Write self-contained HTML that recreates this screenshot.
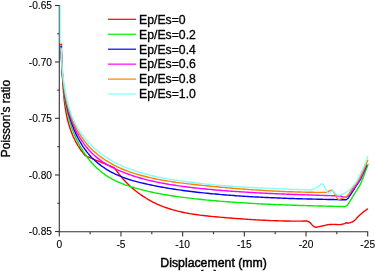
<!DOCTYPE html>
<html><head><meta charset="utf-8"><style>
html,body{margin:0;padding:0;background:#fff;width:375px;height:271px;overflow:hidden}
svg{display:block}
text{font-family:"Liberation Sans",Arial,sans-serif;fill:#000;stroke:#000;stroke-width:0.45px}
.tk text{stroke-width:0.12px}
.yt{stroke-width:0.35px}
.lg text{stroke-width:0.3px}
</style></head><body>
<svg width="375" height="271" viewBox="0 0 375 271">
<g fill="none" stroke-width="1.4" stroke-linejoin="round" stroke-linecap="round">
<path d="M61.20,44.30L61.30,46.29 61.40,48.28 61.49,50.29 61.58,52.30 61.67,54.32 61.75,56.35 61.84,58.38 61.92,60.42 62.00,62.46 62.08,64.51 62.16,66.57 62.24,68.63 62.32,70.69 62.41,72.75 62.50,74.82 62.60,76.89 62.69,78.95 62.80,81.02 62.91,83.09 63.03,85.16 63.15,87.22 63.29,89.29 63.44,91.35 63.60,93.40 63.78,95.46 63.97,97.51 64.18,99.55 64.41,101.59 64.66,103.62 64.93,105.65 65.23,107.67 65.54,109.68 65.89,111.68 66.26,113.67 66.66,115.66 67.09,117.63 67.55,119.59 68.04,121.55 68.56,123.49 69.12,125.41 69.72,127.33 70.36,129.23 71.03,131.11 71.75,132.99 72.50,134.84 73.30,136.68 74.15,138.50 75.04,140.31 75.97,142.10 76.96,143.87 77.99,145.62 79.08,147.35 80.21,149.07 81.40,150.76 82.65,152.43 83.94,154.08 85.30,155.70 87.34,156.59 89.39,157.47 91.45,158.33 93.51,159.19 95.57,160.03 97.64,160.87 99.71,161.71 101.77,162.54 103.84,163.38 105.90,164.22 107.96,165.07 110.01,165.94 112.06,166.81 114.10,167.70 115.35,169.31 116.59,170.92 117.83,172.52 119.08,174.09 120.33,175.65 121.61,177.18 122.91,178.70 124.23,180.19 125.59,181.66 126.98,183.11 128.42,184.53 129.89,185.92 131.39,187.29 132.93,188.64 134.50,189.95 136.10,191.23 137.73,192.49 139.38,193.71 141.06,194.90 142.76,196.06 144.49,197.18 146.24,198.27 148.00,199.33 149.78,200.34 151.58,201.32 153.39,202.26 155.21,203.16 157.04,204.02 158.88,204.84 160.74,205.63 162.60,206.37 164.47,207.08 166.35,207.76 168.24,208.40 170.14,209.01 172.05,209.59 173.97,210.14 175.89,210.66 177.82,211.15 179.76,211.61 181.71,212.05 183.66,212.47 185.62,212.86 187.59,213.24 189.57,213.59 191.55,213.92 193.53,214.23 195.53,214.52 197.52,214.80 199.53,215.07 201.54,215.32 203.55,215.56 205.57,215.78 207.59,216.00 209.62,216.21 211.65,216.41 213.68,216.60 215.72,216.79 217.76,216.97 219.81,217.15 221.85,217.33 223.90,217.50 225.96,217.68 228.01,217.85 230.07,218.01 232.12,218.18 234.18,218.34 236.24,218.50 238.30,218.65 240.37,218.81 242.43,218.96 244.49,219.10 246.55,219.24 248.62,219.38 250.68,219.51 252.74,219.64 254.80,219.76 256.86,219.88 258.92,220.00 260.97,220.11 263.03,220.21 265.08,220.31 267.13,220.41 269.18,220.50 271.22,220.58 273.26,220.66 275.30,220.73 277.34,220.80 279.37,220.86 281.40,220.92 283.42,220.96 285.44,221.01 287.45,221.04 289.46,221.07 291.47,221.09 293.47,221.11 295.46,221.11 297.45,221.11 299.43,221.11 301.41,221.09 303.38,221.07 305.34,221.04 307.30,221.00 307.51,221.12 307.79,221.26 308.12,221.43 308.49,221.62 308.88,221.84 309.27,222.08 309.65,222.33 310.00,222.60 310.33,222.90 310.66,223.24 310.99,223.61 311.32,224.00 311.64,224.39 311.97,224.76 312.29,225.10 312.60,225.40 312.91,225.67 313.22,225.92 313.53,226.15 313.84,226.37 314.14,226.56 314.43,226.73 314.72,226.88 315.00,227.00 315.26,227.09 315.48,227.15 315.69,227.19 315.90,227.21 316.12,227.20 316.37,227.18 316.66,227.15 317.00,227.10 317.40,227.03 317.86,226.94 318.35,226.83 318.88,226.71 319.41,226.57 319.95,226.44 320.49,226.31 321.00,226.20 321.50,226.10 322.01,225.99 322.52,225.89 323.03,225.79 323.54,225.70 324.04,225.60 324.52,225.50 325.00,225.40 325.45,225.30 325.86,225.19 326.26,225.07 326.66,224.96 327.06,224.86 327.50,224.76 327.97,224.67 328.50,224.60 329.09,224.54 329.72,224.50 330.39,224.46 331.09,224.44 331.81,224.42 332.54,224.41 333.27,224.40 334.00,224.40 334.74,224.41 335.51,224.45 336.30,224.49 337.09,224.54 337.87,224.58 338.63,224.61 339.34,224.62 340.00,224.60 340.61,224.55 341.18,224.48 341.71,224.39 342.22,224.28 342.70,224.17 343.15,224.04 343.59,223.92 344.00,223.80 344.39,223.67 344.75,223.51 345.09,223.34 345.41,223.17 345.70,223.01 345.98,222.87 346.25,222.76 346.50,222.70 346.72,222.70 346.89,222.75 347.03,222.85 347.16,222.96 347.30,223.07 347.47,223.16 347.70,223.21 348.00,223.20 348.39,223.14 348.85,223.04 349.36,222.91 349.91,222.76 350.46,222.58 351.01,222.40 351.53,222.20 352.00,222.00 352.42,221.80 352.82,221.58 353.20,221.36 353.56,221.12 353.92,220.87 354.27,220.60 354.63,220.31 355.00,220.00 355.38,219.65 355.75,219.27 356.12,218.87 356.50,218.45 356.88,218.02 357.25,217.60 357.62,217.19 358.00,216.80 358.38,216.43 358.75,216.06 359.12,215.71 359.50,215.36 359.88,215.01 360.25,214.67 360.62,214.33 361.00,214.00 361.37,213.67 361.74,213.35 362.10,213.04 362.47,212.73 362.84,212.42 363.21,212.12 363.60,211.81 364.00,211.50 364.44,211.17 364.92,210.82 365.43,210.45 365.94,210.09 366.42,209.75 366.86,209.45 367.23,209.19 367.50,209.00" stroke="#ff0000"/>
<path d="M61.20,45.50L61.25,47.49 61.29,49.49 61.34,51.49 61.39,53.49 61.45,55.50 61.51,57.51 61.57,59.52 61.64,61.54 61.71,63.56 61.80,65.58 61.89,67.60 61.98,69.62 62.09,71.64 62.21,73.67 62.33,75.69 62.47,77.71 62.62,79.74 62.79,81.76 62.96,83.78 63.15,85.80 63.36,87.81 63.58,89.83 63.82,91.84 64.07,93.85 64.34,95.86 64.63,97.86 64.94,99.86 65.27,101.85 65.61,103.84 65.98,105.83 66.38,107.81 66.79,109.78 67.23,111.75 67.69,113.71 68.17,115.66 68.69,117.61 69.22,119.55 69.79,121.49 70.38,123.41 71.00,125.33 71.65,127.24 72.33,129.14 73.04,131.03 73.78,132.91 74.55,134.78 75.36,136.64 76.20,138.49 77.07,140.33 77.98,142.16 78.92,143.98 79.89,145.77 80.90,147.56 81.95,149.32 83.03,151.06 84.14,152.78 85.28,154.47 86.46,156.13 87.67,157.77 88.91,159.37 90.19,160.94 91.50,162.47 92.84,163.96 94.21,165.42 95.62,166.83 97.06,168.21 98.52,169.54 100.02,170.83 101.55,172.08 103.12,173.28 104.71,174.44 106.33,175.55 107.99,176.61 109.67,177.63 111.38,178.60 113.11,179.54 114.87,180.43 116.65,181.28 118.46,182.10 120.28,182.88 122.13,183.63 123.99,184.35 125.87,185.04 127.76,185.70 129.67,186.34 131.59,186.95 133.52,187.53 135.46,188.10 137.41,188.64 139.37,189.17 141.33,189.68 143.30,190.18 145.27,190.66 147.24,191.13 149.22,191.58 151.21,192.01 153.19,192.44 155.19,192.85 157.18,193.25 159.18,193.63 161.18,194.00 163.19,194.36 165.20,194.71 167.21,195.05 169.22,195.38 171.24,195.70 173.25,196.01 175.27,196.30 177.29,196.59 179.31,196.87 181.34,197.14 183.36,197.41 185.38,197.66 187.41,197.91 189.43,198.15 191.46,198.39 193.48,198.62 195.51,198.84 197.53,199.06 199.55,199.27 201.57,199.48 203.59,199.69 205.61,199.88 207.63,200.08 209.65,200.27 211.66,200.46 213.68,200.64 215.69,200.82 217.71,200.99 219.72,201.16 221.73,201.33 223.74,201.49 225.75,201.65 227.76,201.81 229.77,201.96 231.78,202.11 233.79,202.25 235.80,202.39 237.80,202.53 239.81,202.66 241.82,202.79 243.82,202.92 245.83,203.05 247.84,203.17 249.84,203.29 251.85,203.40 253.85,203.52 255.86,203.63 257.86,203.73 259.87,203.84 261.87,203.94 263.88,204.04 265.88,204.13 267.89,204.23 269.89,204.32 271.90,204.41 273.91,204.50 275.91,204.58 277.92,204.66 279.93,204.74 281.93,204.82 283.94,204.90 285.95,204.98 287.96,205.05 289.97,205.12 291.98,205.19 293.99,205.26 296.00,205.32 298.02,205.39 300.03,205.45 302.04,205.51 304.06,205.57 306.07,205.63 308.09,205.69 310.11,205.75 312.13,205.80 314.15,205.86 316.17,205.91 318.19,205.96 320.21,206.02 322.24,206.07 324.26,206.12 326.29,206.17 328.32,206.22 330.35,206.27 332.38,206.32 334.41,206.36 336.45,206.41 338.48,206.46 340.52,206.51 342.56,206.55 344.60,206.60 344.79,206.51 345.06,206.39 345.37,206.26 345.72,206.10 346.08,205.93 346.42,205.76 346.74,205.58 347.00,205.40 347.22,205.22 347.40,205.03 347.57,204.84 347.73,204.64 347.87,204.43 348.01,204.22 348.15,204.01 348.30,203.80 348.44,203.62 348.54,203.48 348.63,203.35 348.73,203.21 348.85,203.04 349.01,202.79 349.22,202.46 349.50,202.00 349.87,201.40 350.30,200.69 350.79,199.87 351.32,198.99 351.87,198.08 352.43,197.16 352.98,196.25 353.50,195.40 354.02,194.57 354.56,193.71 355.10,192.85 355.65,191.99 356.18,191.15 356.69,190.35 357.17,189.59 357.60,188.90 357.98,188.28 358.33,187.73 358.64,187.23 358.93,186.77 359.20,186.32 359.47,185.87 359.73,185.40 360.00,184.90 360.26,184.39 360.50,183.91 360.74,183.44 360.96,182.95 361.19,182.43 361.44,181.86 361.70,181.22 362.00,180.50 362.33,179.67 362.68,178.75 363.05,177.76 363.44,176.72 363.83,175.66 364.23,174.58 364.62,173.52 365.00,172.50 365.40,171.45 365.82,170.31 366.26,169.15 366.69,168.00 367.09,166.91 367.46,165.94 367.77,165.12 368.00,164.50" stroke="#00ee00"/>
<path d="M61.20,46.20L61.23,48.15 61.27,50.12 61.31,52.09 61.36,54.06 61.42,56.05 61.48,58.04 61.56,60.04 61.64,62.04 61.73,64.05 61.83,66.06 61.94,68.08 62.07,70.10 62.20,72.12 62.35,74.15 62.51,76.17 62.69,78.20 62.88,80.23 63.08,82.25 63.30,84.28 63.54,86.31 63.79,88.33 64.06,90.35 64.35,92.37 64.65,94.39 64.98,96.40 65.32,98.41 65.69,100.41 66.08,102.40 66.48,104.39 66.92,106.38 67.37,108.35 67.85,110.32 68.35,112.28 68.87,114.23 69.42,116.17 70.00,118.10 70.60,120.02 71.24,121.93 71.89,123.82 72.58,125.71 73.30,127.58 74.04,129.43 74.82,131.28 75.62,133.11 76.46,134.92 77.33,136.71 78.24,138.49 79.18,140.24 80.15,141.98 81.17,143.69 82.22,145.38 83.31,147.04 84.45,148.68 85.62,150.29 86.84,151.87 88.10,153.42 89.40,154.94 90.75,156.43 92.15,157.89 93.60,159.31 95.09,160.69 96.62,162.04 98.18,163.35 99.79,164.62 101.42,165.85 103.09,167.04 104.78,168.19 106.49,169.29 108.22,170.34 109.96,171.35 111.72,172.31 113.49,173.23 115.27,174.10 117.07,174.93 118.87,175.72 120.69,176.47 122.51,177.19 124.35,177.87 126.20,178.53 128.06,179.15 129.92,179.74 131.80,180.31 133.69,180.86 135.58,181.38 137.48,181.88 139.39,182.37 141.31,182.84 143.24,183.30 145.18,183.74 147.12,184.18 149.07,184.60 151.02,185.02 152.98,185.42 154.95,185.82 156.93,186.20 158.91,186.58 160.89,186.95 162.88,187.31 164.88,187.66 166.88,188.00 168.88,188.33 170.89,188.66 172.90,188.98 174.92,189.29 176.94,189.59 178.96,189.88 180.98,190.17 183.01,190.45 185.04,190.72 187.07,190.99 189.10,191.25 191.14,191.50 193.17,191.74 195.21,191.98 197.25,192.22 199.28,192.44 201.32,192.67 203.36,192.88 205.39,193.09 207.43,193.30 209.46,193.50 211.50,193.69 213.53,193.88 215.56,194.07 217.59,194.25 219.61,194.42 221.63,194.60 223.65,194.76 225.67,194.93 227.69,195.09 229.70,195.24 231.71,195.40 233.72,195.55 235.72,195.69 237.73,195.83 239.73,195.97 241.73,196.10 243.73,196.23 245.73,196.36 247.72,196.49 249.72,196.61 251.71,196.72 253.70,196.84 255.70,196.95 257.69,197.06 259.68,197.16 261.67,197.27 263.65,197.37 265.64,197.46 267.63,197.56 269.62,197.65 271.61,197.74 273.59,197.82 275.58,197.91 277.57,197.99 279.56,198.07 281.54,198.14 283.53,198.22 285.52,198.29 287.51,198.36 289.50,198.43 291.49,198.50 293.49,198.56 295.48,198.63 297.48,198.69 299.47,198.75 301.47,198.81 303.47,198.86 305.47,198.92 307.47,198.97 309.48,199.02 311.49,199.07 313.49,199.12 315.51,199.17 317.52,199.22 319.53,199.27 321.55,199.31 323.57,199.36 325.60,199.40 327.62,199.44 329.65,199.48 331.68,199.53 333.72,199.57 335.76,199.61 337.80,199.65 339.85,199.69 341.89,199.72 343.95,199.76 346.00,199.80 346.15,199.70 346.33,199.58 346.56,199.44 346.81,199.28 347.08,199.08 347.38,198.83 347.68,198.54 348.00,198.20 348.33,197.79 348.70,197.31 349.08,196.78 349.48,196.21 349.88,195.61 350.29,195.00 350.70,194.39 351.10,193.80 351.49,193.22 351.88,192.63 352.27,192.03 352.66,191.43 353.06,190.82 353.46,190.19 353.88,189.55 354.30,188.90 354.75,188.21 355.22,187.49 355.70,186.74 356.19,185.99 356.68,185.24 357.15,184.52 357.59,183.83 358.00,183.20 358.36,182.65 358.69,182.18 358.99,181.76 359.27,181.35 359.56,180.93 359.85,180.47 360.16,179.94 360.50,179.30 360.88,178.54 361.28,177.70 361.70,176.78 362.13,175.81 362.56,174.83 362.99,173.85 363.41,172.90 363.80,172.00 364.19,171.10 364.60,170.17 365.01,169.22 365.41,168.29 365.78,167.43 366.11,166.65 366.39,166.00 366.60,165.50" stroke="#0000ff"/>
<path d="M61.20,47.00L61.25,48.97 61.31,50.94 61.37,52.93 61.43,54.92 61.51,56.92 61.59,58.92 61.67,60.93 61.77,62.95 61.87,64.97 61.99,66.99 62.12,69.02 62.25,71.05 62.40,73.08 62.57,75.11 62.74,77.14 62.94,79.18 63.14,81.21 63.37,83.24 63.61,85.27 63.87,87.30 64.15,89.32 64.45,91.34 64.76,93.36 65.10,95.37 65.46,97.37 65.85,99.37 66.26,101.36 66.69,103.35 67.14,105.33 67.63,107.30 68.13,109.25 68.67,111.20 69.24,113.14 69.83,115.07 70.45,116.99 71.11,118.89 71.79,120.78 72.51,122.66 73.26,124.52 74.04,126.37 74.86,128.20 75.71,130.02 76.60,131.82 77.53,133.60 78.49,135.36 79.49,137.10 80.54,138.82 81.62,140.51 82.74,142.18 83.91,143.82 85.12,145.43 86.37,147.01 87.67,148.56 89.02,150.08 90.41,151.56 91.85,153.01 93.33,154.41 94.85,155.78 96.41,157.11 98.00,158.40 99.62,159.65 101.27,160.84 102.95,162.00 104.64,163.10 106.35,164.16 108.07,165.16 109.81,166.13 111.56,167.05 113.33,167.93 115.11,168.78 116.90,169.60 118.70,170.40 120.52,171.17 122.35,171.91 124.19,172.64 126.05,173.35 127.91,174.03 129.79,174.70 131.67,175.34 133.57,175.97 135.47,176.58 137.39,177.16 139.31,177.73 141.24,178.28 143.18,178.82 145.13,179.33 147.09,179.83 149.05,180.32 151.02,180.78 153.00,181.23 154.98,181.67 156.97,182.09 158.96,182.50 160.96,182.90 162.96,183.28 164.97,183.65 166.98,184.00 169.00,184.35 171.02,184.68 173.04,185.00 175.07,185.31 177.10,185.61 179.12,185.90 181.16,186.18 183.19,186.46 185.22,186.72 187.26,186.98 189.29,187.22 191.33,187.47 193.36,187.70 195.39,187.93 197.43,188.15 199.46,188.37 201.49,188.58 203.51,188.79 205.54,188.99 207.56,189.19 209.58,189.38 211.60,189.57 213.62,189.75 215.64,189.93 217.66,190.11 219.67,190.28 221.68,190.45 223.70,190.61 225.71,190.77 227.72,190.93 229.72,191.08 231.73,191.23 233.74,191.37 235.74,191.51 237.75,191.65 239.75,191.78 241.76,191.92 243.76,192.04 245.76,192.17 247.77,192.29 249.77,192.41 251.77,192.53 253.77,192.64 255.77,192.75 257.77,192.86 259.77,192.96 261.77,193.07 263.77,193.17 265.77,193.26 267.78,193.36 269.78,193.45 271.78,193.55 273.78,193.64 275.78,193.72 277.79,193.81 279.79,193.89 281.79,193.98 283.80,194.06 285.81,194.14 287.81,194.21 289.82,194.29 291.83,194.37 293.84,194.44 295.85,194.51 297.86,194.59 299.87,194.66 301.89,194.73 303.90,194.80 305.92,194.87 307.94,194.93 309.96,195.00 311.98,195.07 314.01,195.13 316.03,195.20 318.06,195.27 320.09,195.33 322.12,195.40 324.15,195.46 326.19,195.53 328.23,195.60 330.27,195.66 332.31,195.73 334.35,195.80 336.40,195.86 338.45,195.93 340.50,196.00 340.73,196.08 341.04,196.20 341.41,196.35 341.81,196.50 342.24,196.65 342.68,196.80 343.10,196.92 343.50,197.00 343.87,197.07 344.24,197.16 344.60,197.24 344.97,197.29 345.34,197.31 345.71,197.28 346.10,197.18 346.50,197.00 346.91,196.73 347.33,196.37 347.75,195.95 348.19,195.48 348.63,194.97 349.08,194.42 349.54,193.86 350.00,193.30 350.48,192.72 350.96,192.09 351.46,191.44 351.97,190.77 352.48,190.08 352.99,189.38 353.50,188.69 354.00,188.00 354.51,187.31 355.02,186.61 355.54,185.90 356.06,185.19 356.57,184.48 357.07,183.78 357.55,183.08 358.00,182.40 358.42,181.74 358.82,181.10 359.21,180.46 359.57,179.84 359.93,179.21 360.29,178.56 360.64,177.90 361.00,177.20 361.36,176.47 361.72,175.72 362.08,174.94 362.43,174.15 362.78,173.35 363.13,172.56 363.47,171.77 363.80,171.00 364.14,170.20 364.50,169.35 364.87,168.47 365.23,167.61 365.56,166.80 365.86,166.07 366.11,165.46 366.30,165.00" stroke="#ff00ff"/>
<path d="M61.20,45.80L61.23,47.74 61.27,49.70 61.31,51.66 61.36,53.64 61.42,55.62 61.48,57.61 61.56,59.61 61.64,61.62 61.74,63.64 61.84,65.66 61.96,67.68 62.09,69.71 62.24,71.74 62.40,73.77 62.58,75.81 62.77,77.84 62.98,79.88 63.21,81.91 63.46,83.95 63.73,85.98 64.01,88.00 64.32,90.02 64.66,92.04 65.01,94.05 65.39,96.06 65.79,98.05 66.22,100.04 66.68,102.02 67.16,103.99 67.67,105.95 68.22,107.89 68.79,109.83 69.39,111.75 70.02,113.66 70.68,115.55 71.38,117.43 72.12,119.29 72.88,121.13 73.68,122.96 74.52,124.76 75.40,126.55 76.31,128.32 77.26,130.06 78.25,131.78 79.27,133.48 80.33,135.16 81.43,136.81 82.57,138.44 83.75,140.04 84.96,141.61 86.21,143.16 87.50,144.67 88.83,146.16 90.20,147.62 91.61,149.05 93.06,150.44 94.55,151.80 96.07,153.13 97.63,154.43 99.22,155.68 100.84,156.91 102.49,158.09 104.15,159.24 105.83,160.36 107.53,161.43 109.25,162.46 110.98,163.46 112.73,164.42 114.49,165.35 116.26,166.25 118.05,167.11 119.86,167.94 121.67,168.74 123.50,169.50 125.34,170.24 127.19,170.96 129.06,171.64 130.93,172.30 132.82,172.94 134.71,173.55 136.62,174.14 138.54,174.70 140.46,175.25 142.40,175.77 144.34,176.28 146.29,176.77 148.25,177.24 150.21,177.69 152.19,178.13 154.16,178.55 156.15,178.96 158.14,179.35 160.14,179.73 162.14,180.10 164.14,180.45 166.15,180.79 168.17,181.12 170.19,181.43 172.21,181.74 174.23,182.03 176.26,182.32 178.28,182.60 180.31,182.86 182.34,183.12 184.37,183.38 186.41,183.62 188.44,183.86 190.47,184.10 192.50,184.32 194.53,184.55 196.56,184.77 198.58,184.98 200.60,185.20 202.62,185.41 204.64,185.61 206.66,185.82 208.67,186.02 210.68,186.22 212.69,186.42 214.70,186.61 216.71,186.81 218.71,186.99 220.71,187.18 222.71,187.36 224.71,187.54 226.71,187.72 228.70,187.90 230.70,188.07 232.69,188.24 234.68,188.40 236.67,188.57 238.66,188.73 240.65,188.88 242.64,189.04 244.63,189.19 246.62,189.34 248.61,189.48 250.60,189.62 252.58,189.76 254.57,189.90 256.56,190.03 258.54,190.16 260.53,190.28 262.52,190.40 264.51,190.52 266.50,190.64 268.49,190.75 270.48,190.86 272.47,190.96 274.46,191.06 276.45,191.16 278.45,191.26 280.44,191.35 282.44,191.44 284.44,191.52 286.44,191.60 288.44,191.68 290.44,191.75 292.45,191.82 294.45,191.88 296.46,191.94 298.47,192.00 300.49,192.06 302.50,192.11 304.52,192.15 306.54,192.20 308.56,192.23 310.59,192.27 312.62,192.30 314.65,192.33 316.68,192.35 318.72,192.37 320.76,192.38 322.80,192.39 324.85,192.40 326.90,192.40 327.08,192.29 327.33,192.13 327.62,191.95 327.94,191.75 328.29,191.54 328.64,191.34 328.98,191.16 329.30,191.00 329.61,190.85 329.94,190.70 330.27,190.55 330.60,190.41 330.92,190.30 331.24,190.22 331.53,190.18 331.80,190.20 332.04,190.28 332.26,190.42 332.47,190.60 332.66,190.81 332.84,191.05 333.02,191.30 333.21,191.55 333.40,191.80 333.60,192.03 333.78,192.26 333.97,192.49 334.16,192.74 334.35,193.00 334.55,193.30 334.77,193.63 335.00,194.00 335.26,194.45 335.53,194.98 335.82,195.56 336.12,196.16 336.43,196.76 336.73,197.31 337.02,197.80 337.30,198.20 337.56,198.51 337.80,198.77 338.03,198.98 338.26,199.14 338.50,199.26 338.74,199.34 339.01,199.39 339.30,199.40 339.62,199.36 339.95,199.26 340.31,199.12 340.67,198.94 341.05,198.74 341.43,198.54 341.82,198.36 342.20,198.20 342.58,198.08 342.98,197.98 343.37,197.90 343.78,197.81 344.18,197.71 344.59,197.59 344.99,197.42 345.40,197.20 345.80,196.94 346.20,196.66 346.60,196.36 347.00,196.02 347.41,195.64 347.82,195.21 348.25,194.74 348.70,194.20 349.17,193.58 349.65,192.88 350.14,192.12 350.65,191.32 351.16,190.49 351.68,189.67 352.19,188.86 352.70,188.10 353.22,187.35 353.77,186.57 354.33,185.80 354.89,185.03 355.43,184.29 355.93,183.60 356.40,182.96 356.80,182.40 357.12,181.97 357.35,181.68 357.53,181.47 357.68,181.29 357.84,181.09 358.02,180.81 358.27,180.40 358.60,179.80 359.02,179.01 359.51,178.08 360.05,177.03 360.62,175.89 361.21,174.70 361.82,173.46 362.42,172.22 363.00,171.00 363.61,169.70 364.26,168.25 364.95,166.73 365.62,165.20 366.27,163.74 366.85,162.43 367.34,161.32 367.70,160.50" stroke="#ff8000"/>
<path d="M59.90,5.50L59.90,7.04 59.90,9.13 59.90,11.63 59.90,14.38 59.90,17.23 59.90,20.05 59.90,22.69 59.90,25.00 59.90,27.08 59.90,29.12 59.91,31.09 59.91,32.97 59.91,34.72 59.92,36.33 59.93,37.77 59.95,39.00 59.97,39.97 59.99,40.68 60.00,41.19 60.03,41.56 60.06,41.87 60.09,42.16 60.14,42.52 60.20,43.00 60.28,43.58 60.37,44.18 60.47,44.80 60.58,45.44 60.69,46.08 60.80,46.73 60.91,47.37 61.00,48.00 61.09,48.66 61.18,49.37 61.27,50.09 61.35,50.81 61.43,51.49 61.50,52.10 61.56,52.61 61.60,53.00 61.63,55.00 61.68,57.01 61.74,59.03 61.83,61.05 61.93,63.08 62.05,65.11 62.19,67.14 62.35,69.18 62.53,71.21 62.72,73.25 62.93,75.28 63.16,77.32 63.41,79.35 63.68,81.38 63.96,83.40 64.26,85.43 64.57,87.44 64.91,89.45 65.26,91.46 65.62,93.45 66.01,95.44 66.42,97.42 66.85,99.39 67.31,101.35 67.79,103.29 68.30,105.23 68.84,107.15 69.41,109.06 70.02,110.95 70.66,112.83 71.34,114.69 72.05,116.54 72.81,118.37 73.61,120.18 74.46,121.97 75.34,123.74 76.28,125.49 77.26,127.22 78.28,128.93 79.35,130.61 80.46,132.27 81.61,133.91 82.79,135.52 84.02,137.10 85.28,138.66 86.58,140.19 87.91,141.69 89.27,143.16 90.66,144.60 92.09,146.02 93.54,147.40 95.03,148.74 96.54,150.06 98.07,151.34 99.63,152.58 101.22,153.79 102.83,154.97 104.45,156.11 106.10,157.22 107.77,158.29 109.47,159.33 111.18,160.34 112.90,161.32 114.65,162.26 116.42,163.18 118.20,164.07 120.00,164.93 121.81,165.76 123.65,166.56 125.49,167.34 127.35,168.09 129.22,168.81 131.11,169.51 133.01,170.19 134.92,170.84 136.84,171.47 138.77,172.08 140.71,172.66 142.67,173.23 144.63,173.77 146.60,174.30 148.57,174.81 150.56,175.30 152.54,175.77 154.54,176.22 156.54,176.66 158.55,177.08 160.56,177.49 162.57,177.89 164.59,178.27 166.61,178.64 168.63,178.99 170.65,179.34 172.67,179.67 174.69,179.99 176.71,180.31 178.73,180.61 180.75,180.91 182.77,181.20 184.78,181.48 186.79,181.76 188.80,182.02 190.81,182.28 192.81,182.54 194.82,182.78 196.82,183.02 198.82,183.26 200.82,183.48 202.82,183.70 204.81,183.92 206.81,184.12 208.80,184.33 210.80,184.52 212.79,184.71 214.78,184.90 216.77,185.08 218.76,185.26 220.75,185.43 222.74,185.59 224.73,185.75 226.72,185.91 228.71,186.06 230.69,186.20 232.68,186.35 234.67,186.48 236.66,186.62 238.65,186.75 240.64,186.88 242.63,187.00 244.62,187.12 246.61,187.24 248.60,187.35 250.59,187.46 252.58,187.57 254.58,187.67 256.57,187.78 258.57,187.88 260.57,187.97 262.56,188.07 264.56,188.16 266.57,188.25 268.57,188.34 270.57,188.43 272.58,188.52 274.59,188.60 276.60,188.68 278.61,188.77 280.63,188.85 282.64,188.93 284.66,189.01 286.68,189.09 288.71,189.17 290.73,189.25 292.76,189.33 294.80,189.40 296.83,189.48 298.87,189.56 300.91,189.64 302.95,189.72 305.00,189.80 305.56,189.78 306.34,189.77 307.27,189.75 308.28,189.72 309.32,189.69 310.33,189.65 311.24,189.58 312.00,189.50 312.60,189.40 313.11,189.30 313.54,189.18 313.93,189.04 314.30,188.89 314.66,188.72 315.06,188.52 315.50,188.30 315.99,188.04 316.51,187.73 317.05,187.40 317.59,187.04 318.13,186.69 318.65,186.33 319.15,186.00 319.60,185.70 320.01,185.39 320.40,185.04 320.76,184.68 321.10,184.34 321.43,184.06 321.75,183.85 322.07,183.76 322.40,183.80 322.73,184.01 323.05,184.35 323.36,184.81 323.68,185.35 323.98,185.94 324.29,186.55 324.59,187.14 324.90,187.70 325.21,188.26 325.53,188.86 325.85,189.49 326.16,190.12 326.47,190.73 326.77,191.29 327.04,191.79 327.30,192.20 327.53,192.53 327.72,192.80 327.90,193.01 328.06,193.18 328.23,193.30 328.40,193.37 328.59,193.41 328.80,193.40 329.04,193.33 329.31,193.19 329.58,192.99 329.87,192.75 330.16,192.49 330.45,192.24 330.73,192.00 331.00,191.80 331.26,191.61 331.51,191.39 331.76,191.16 332.01,190.95 332.26,190.77 332.50,190.64 332.75,190.57 333.00,190.60 333.24,190.73 333.47,190.95 333.70,191.24 333.93,191.58 334.17,191.95 334.42,192.32 334.70,192.68 335.00,193.00 335.33,193.32 335.67,193.66 336.04,194.02 336.42,194.37 336.82,194.69 337.23,194.97 337.66,195.18 338.10,195.30 338.57,195.33 339.06,195.29 339.57,195.18 340.09,195.02 340.63,194.83 341.16,194.62 341.69,194.40 342.20,194.20 342.70,194.00 343.20,193.79 343.70,193.57 344.20,193.34 344.70,193.08 345.20,192.81 345.70,192.52 346.20,192.20 346.71,191.86 347.22,191.49 347.73,191.11 348.25,190.70 348.77,190.28 349.28,189.83 349.79,189.37 350.30,188.90 350.81,188.40 351.33,187.88 351.85,187.33 352.36,186.78 352.87,186.21 353.37,185.63 353.84,185.06 354.30,184.50 354.73,183.96 355.14,183.43 355.53,182.91 355.91,182.38 356.28,181.84 356.65,181.27 357.02,180.66 357.40,180.00 357.79,179.28 358.18,178.49 358.58,177.67 358.97,176.81 359.36,175.95 359.75,175.10 360.13,174.28 360.50,173.50 360.87,172.76 361.23,172.05 361.59,171.36 361.95,170.69 362.30,170.02 362.64,169.35 362.98,168.68 363.30,168.00 363.61,167.31 363.91,166.63 364.21,165.95 364.49,165.27 364.77,164.58 365.05,163.90 365.33,163.20 365.60,162.50 365.89,161.75 366.19,160.94 366.49,160.09 366.79,159.26 367.08,158.46 367.33,157.75 367.54,157.15 367.70,156.70" stroke="#80ffff"/>
</g>
<rect x="60.2" y="43.9" width="2" height="1.2" fill="#ff0000"/><rect x="60.2" y="45.1" width="2" height="1" fill="#00ee00"/><rect x="60.2" y="46.1" width="2" height="1" fill="#0000ff"/><rect x="60.2" y="47.1" width="2" height="1" fill="#ff00ff"/>
<g stroke="#333" stroke-width="1.1" fill="none">
<line x1="59.3" y1="5" x2="59.3" y2="232.2"/>
<line x1="58.8" y1="231.7" x2="368.2" y2="231.7"/>
<line x1="55" y1="5.5" x2="59.3" y2="5.5"/><line x1="55" y1="62.0" x2="59.3" y2="62.0"/><line x1="55" y1="118.3" x2="59.3" y2="118.3"/><line x1="55" y1="175.0" x2="59.3" y2="175.0"/><line x1="55" y1="231.5" x2="59.3" y2="231.5"/><line x1="57.3" y1="33.75" x2="59.3" y2="33.75"/><line x1="57.3" y1="90.15" x2="59.3" y2="90.15"/><line x1="57.3" y1="146.65" x2="59.3" y2="146.65"/><line x1="57.3" y1="203.25" x2="59.3" y2="203.25"/><line x1="59.3" y1="231.7" x2="59.3" y2="236.5"/><line x1="120.97999999999999" y1="231.7" x2="120.97999999999999" y2="236.5"/><line x1="182.66" y1="231.7" x2="182.66" y2="236.5"/><line x1="244.33999999999997" y1="231.7" x2="244.33999999999997" y2="236.5"/><line x1="306.02" y1="231.7" x2="306.02" y2="236.5"/><line x1="367.7" y1="231.7" x2="367.7" y2="236.5"/><line x1="90.13999999999999" y1="231.7" x2="90.13999999999999" y2="234.2"/><line x1="151.82" y1="231.7" x2="151.82" y2="234.2"/><line x1="213.5" y1="231.7" x2="213.5" y2="234.2"/><line x1="275.17999999999995" y1="231.7" x2="275.17999999999995" y2="234.2"/><line x1="336.86" y1="231.7" x2="336.86" y2="234.2"/>
</g>
<path d="M59.85,5.5 L59.9,30 L60.0,40 L60.25,43.5" stroke="#80ffff" stroke-width="1.1" stroke-opacity="0.6" fill="none"/>
<g stroke-width="1.2" fill="none"><line x1="108" y1="19.30" x2="136" y2="19.30" stroke="#ff0000"/><line x1="108" y1="34.25" x2="136" y2="34.25" stroke="#00ee00"/><line x1="108" y1="49.20" x2="136" y2="49.20" stroke="#0000ff"/><line x1="108" y1="64.15" x2="136" y2="64.15" stroke="#ff00ff"/><line x1="108" y1="79.10" x2="136" y2="79.10" stroke="#ff8000"/><line x1="108" y1="94.05" x2="136" y2="94.05" stroke="#80ffff"/></g>
<g class="lg" font-size="12.25"><text x="139.0" y="23.60">Ep/Es=0</text><text x="139.0" y="38.55">Ep/Es=0.2</text><text x="139.0" y="53.50">Ep/Es=0.4</text><text x="139.0" y="68.45">Ep/Es=0.6</text><text x="139.0" y="83.40">Ep/Es=0.8</text><text x="139.0" y="98.35">Ep/Es=1.0</text></g>
<g class="tk" font-size="11.8" transform="scale(0.865,1)"><text x="60.12" y="9.10" text-anchor="end">-0.65</text><text x="60.12" y="65.60" text-anchor="end">-0.70</text><text x="60.12" y="121.90" text-anchor="end">-0.75</text><text x="60.12" y="178.60" text-anchor="end">-0.80</text><text x="60.12" y="235.10" text-anchor="end">-0.85</text></g>
<g class="tk" font-size="11.8" transform="scale(0.865,1)"><text x="68.55" y="247.8" text-anchor="middle">0</text><text x="139.86" y="247.8" text-anchor="middle">-5</text><text x="211.17" y="247.8" text-anchor="middle">-10</text><text x="282.47" y="247.8" text-anchor="middle">-15</text><text x="353.78" y="247.8" text-anchor="middle">-20</text><text x="425.09" y="247.8" text-anchor="middle">-25</text></g>
<text x="160.3" y="266.8" font-size="12.3">Displacement (mm)</text>
<text x="197.4" y="282.8" font-size="18">(a)</text>
<text class="yt" transform="translate(10.3,157.2) rotate(-90)" font-size="11.95">Poisson's ratio</text>
</svg>
</body></html>
